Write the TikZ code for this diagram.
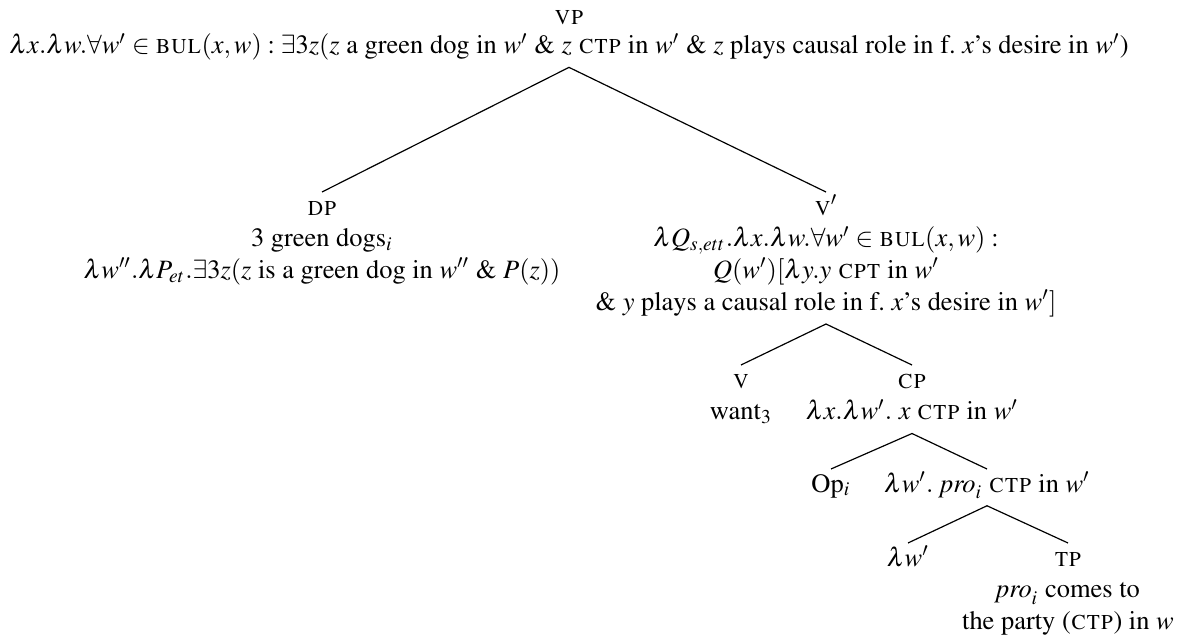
\documentclass[tikz,border=0pt]{standalone}
\usepackage[T1]{fontenc}
\usepackage{mathptmx}
\usepackage{amsmath}
\newcommand{\tstr}{\rule{0pt}{8.5pt}}
\newcommand{\bstr}{\rule[-5pt]{0pt}{5pt}}
\newcommand{\scx}[1]{\text{\textsc{#1}}}
\begin{document}
\begin{tikzpicture}[x=0.378pt,y=-0.378pt,
  tn/.style={align=center,inner sep=0pt,anchor=north},
  br/.style={line width=0.45pt}]
\useasboundingbox (0,0) rectangle (1184,639);
\node[tn] (vp) at (569,1.5) {\tstr\textsc{vp}\\[-1pt]
  $\lambda x.\lambda w.\forall w'\in\scx{bul}(x,w):\exists 3z(z$ a green dog in $w'$ \& $z$ \textsc{ctp} in $w'$ \& $z$ plays causal role in f.\ $x$'s desire in $w'$)\bstr};
\node[tn] (dp) at (322,192) {\tstr\textsc{dp}\\
  3 green dogs$_i$\\
  $\lambda w''.\lambda P_{et}.\exists 3z(z$ is a green dog in $w''$ \& $P(z))$\bstr};
\node[tn] (vbar) at (826,192) {\tstr\textsc{v}$'$\\
  $\lambda Q_{s,ett}.\lambda x.\lambda w.\forall w'\in\scx{bul}(x,w):$\\
  $Q(w')[\lambda y.y$ \textsc{cpt} in $w'$\\
  \& $y$ plays a causal role in f.\ $x$'s desire in $w']$\bstr};
\node[tn] (v) at (741,365) {\tstr\textsc{v}\\ want$_3$\bstr};
\node[tn] (cp) at (912,365) {\tstr\textsc{cp}\\ $\lambda x.\lambda w'.\ x$ \textsc{ctp} in $w'$\bstr};
\node[tn] (op) at (831,469) {\tstr Op$_i$\bstr};
\node[tn] (cbar) at (987,469) {\tstr$\lambda w'.\ \mathit{pro}_i$ \textsc{ctp} in $w'$\bstr};
\node[tn] (lam) at (908,543) {\tstr$\lambda w'$\bstr};
\node[tn] (tp) at (1068,543) {\tstr\textsc{tp}\\ $\mathit{pro}_i$ comes to\\ the party (\textsc{ctp}) in $w$};
\draw[br] (dp.north) -- (vp.south) -- (vbar.north);
\draw[br] (v.north) -- (vbar.south) -- (cp.north);
\draw[br] (op.north) -- (cp.south) -- (cbar.north);
\draw[br] (lam.north) -- (cbar.south) -- (tp.north);
\end{tikzpicture}
\end{document}
